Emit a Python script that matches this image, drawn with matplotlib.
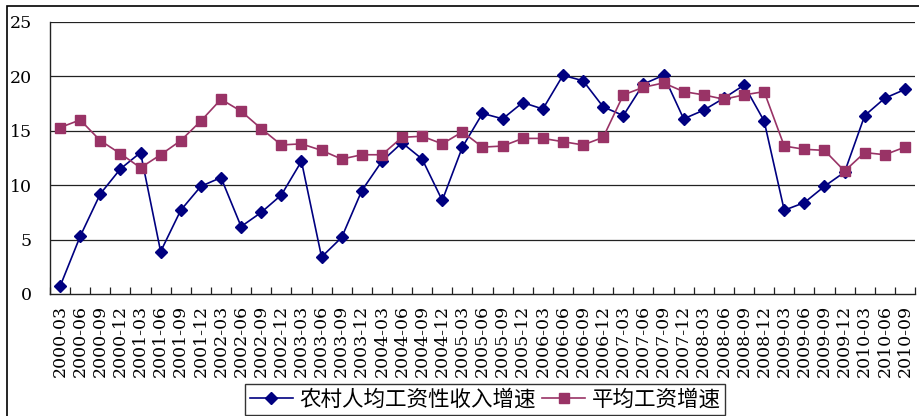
import matplotlib
matplotlib.use("Agg")
import matplotlib.pyplot as plt
from matplotlib.patches import Rectangle
import numpy as np

quarters = ["2000-03","2000-06","2000-09","2000-12","2001-03","2001-06","2001-09","2001-12",
            "2002-03","2002-06","2002-09","2002-12","2003-03","2003-06","2003-09","2003-12",
            "2004-03","2004-06","2004-09","2004-12","2005-03","2005-06","2005-09","2005-12",
            "2006-03","2006-06","2006-09","2006-12","2007-03","2007-06","2007-09","2007-12",
            "2008-03","2008-06","2008-09","2008-12","2009-03","2009-06","2009-09","2009-12",
            "2010-03","2010-06","2010-09"]

rural_wage = [0.7, 5.3, 9.2, 11.5, 13.0, 3.9, 7.7, 9.9,
              10.7, 6.2, 7.5, 9.1, 12.2, 3.4, 5.2, 9.5,
              12.2, 13.9, 12.4, 8.6, 13.5, 16.6, 16.1, 17.6,
              17.0, 20.1, 19.6, 17.2, 16.4, 19.3, 20.1, 16.1,
              16.9, 18.0, 19.2, 15.9, 7.7, 8.4, 9.9, 11.2,
              16.4, 18.0, 18.8]

avg_wage = [15.3, 16.0, 14.1, 12.9, 11.6, 12.8, 14.1, 15.9,
            17.9, 16.8, 15.2, 13.7, 13.8, 13.2, 12.4, 12.8,
            12.8, 14.4, 14.5, 13.8, 14.9, 13.5, 13.6, 14.3,
            14.3, 14.0, 13.7, 14.4, 18.3, 19.0, 19.4, 18.6,
            18.3, 17.9, 18.3, 18.6, 13.6, 13.3, 13.2, 11.3,
            13.0, 12.8, 13.5]

series_names = ["农村人均工资性收入增速", "平均工资增速"]
y_ticks = [0, 5, 10, 15, 20, 25]

W, H = 919, 416
fig = plt.figure(figsize=(W/100, H/100), dpi=100)
ax = fig.add_axes([50/W, 1-294/H, (915-50)/W, (294-22)/H])

x = np.arange(len(quarters))
l1, = ax.plot(x, rural_wage, color="#000080", lw=1.2, marker="D", ms=6.5, zorder=3)
l2, = ax.plot(x, avg_wage, color="#993366", lw=1.2, marker="s", ms=6.5, zorder=3)

ax.set_xlim(-0.5, len(quarters)-0.5)
ax.set_ylim(0, 25)
ax.set_yticks(y_ticks)
ax.set_yticklabels([str(v) for v in y_ticks], fontsize=12.5, family="DejaVu Serif")
for v in y_ticks[1:]:
    ax.axhline(v, color="#222222", lw=0.9, zorder=1)

ax.set_xticks(np.arange(len(quarters)+1)-0.5, minor=False)
ax.set_xticklabels([])
ax.set_xticks(x, minor=True)
ax.set_xticklabels(quarters, minor=True, rotation=90, fontsize=12.5, family="DejaVu Serif")
ax.tick_params(axis="x", which="major", direction="in", length=5, width=0.9, color="#222222")
ax.tick_params(axis="x", which="minor", length=0, pad=8)
ax.tick_params(axis="y", length=0, pad=13)

for s in ["top", "right"]:
    ax.spines[s].set_visible(False)
ax.spines["left"].set_color("#222222")
ax.spines["bottom"].set_color("#222222")
ax.spines["left"].set_linewidth(1.0)
ax.spines["bottom"].set_linewidth(1.0)

leg = fig.legend([l1, l2], series_names, loc="lower center",
                 bbox_to_anchor=(485/W, 1/H), ncol=2, frameon=True, fancybox=False,
                 prop={"family": ["Noto Sans CJK SC", "DejaVu Sans"], "size": 15.5},
                 handlelength=2.0, columnspacing=0.3, handletextpad=0.3,
                 borderpad=0.2, borderaxespad=0)
leg.get_frame().set_edgecolor("black")
leg.get_frame().set_linewidth(1.0)

fig.patches.append(Rectangle((7/W, -0.1), 1.1, 1.1 - 6/H, transform=fig.transFigure,
                             fill=False, edgecolor="black", lw=1.2))

fig.savefig("out.png", dpi=100)
